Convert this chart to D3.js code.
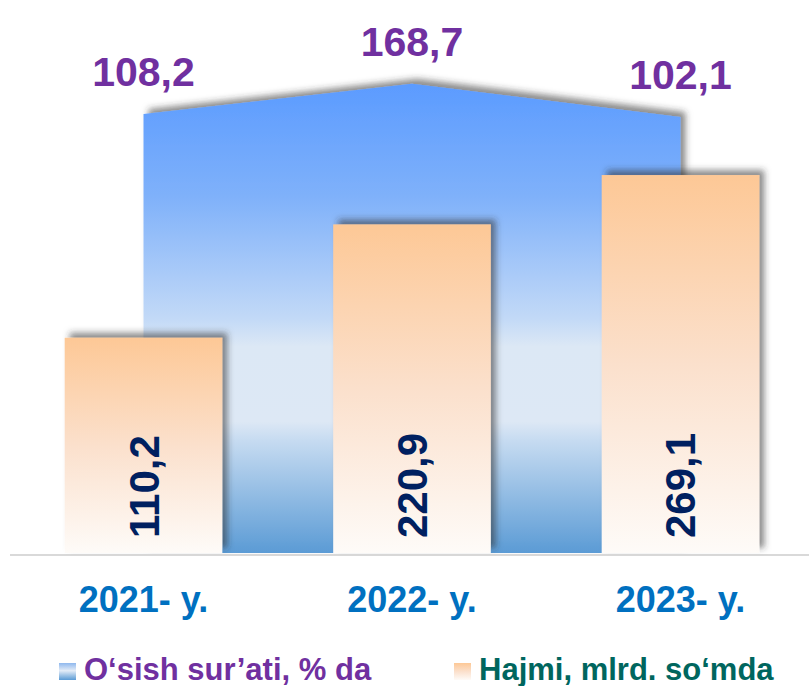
<!DOCTYPE html>
<html>
<head>
<meta charset="utf-8">
<script src="https://cdn.jsdelivr.net/npm/d3@7"></script>
<style>
  body { margin: 0; background: #fff; }
  text { font-family: "Liberation Sans", Arial, sans-serif; font-weight: bold; }
</style>
</head>
<body>
<svg id="chart" width="809" height="686"></svg>
<script>
const years = ["2021- y.", "2022- y.", "2023- y."];
const volume = [110.2, 220.9, 269.1];   // Hajmi, mlrd. so'mda
const growth = [108.2, 168.7, 102.1];   // O'sish sur'ati, % da
const legendNames = ["O\u2018sish sur\u2019ati, % da", "Hajmi, mlrd. so\u2018mda"];

const svg = d3.select("#chart");
const base = 553;

const fmt = d3.formatLocale({ decimal: ",", thousands: " ", grouping: [3], currency: ["", ""] }).format(".1f");

const x = d3.scaleBand()
  .domain(years)
  .range([11, 813])
  .paddingInner(0.413)
  .paddingOuter(0.2);

// primary axis (bars) and secondary axis (area), both hidden
const y1 = d3.scaleLinear().domain([-100, 300]).range([base, base - 400 * 1.024]);
const y2 = d3.scaleLinear().domain([-770, 330]).range([base, base - 1100 * 0.5]);

const cx = d => x(d) + x.bandwidth() / 2;

const defs = svg.append("defs");

const areaGrad = defs.append("linearGradient")
  .attr("id", "areaGrad").attr("x1", 0).attr("y1", 0).attr("x2", 0).attr("y2", 1);
[[0, "#5b9bff"], [0.24, "#7fb1fa"], [0.5, "#c2d9f7"], [0.56, "#dce8f5"],
 [0.72, "#dde8f5"], [0.76, "#c6dbf1"], [1, "#5b9bd5"]]
  .forEach(([o, c]) => areaGrad.append("stop").attr("offset", o).attr("stop-color", c));

const barGrad = defs.append("linearGradient")
  .attr("id", "barGrad").attr("x1", 0).attr("y1", 0).attr("x2", 0).attr("y2", 1);
[[0, "#fdc896"], [0.5, "#fbe0cc"], [1, "#fefbf8"]]
  .forEach(([o, c]) => barGrad.append("stop").attr("offset", o).attr("stop-color", c));

const legBlue = defs.append("linearGradient")
  .attr("id", "legBlue").attr("x1", 0).attr("y1", 0).attr("x2", 0).attr("y2", 1);
[[0, "#8fb8ee"], [0.45, "#e3ecf7"], [1, "#5b9bd5"]]
  .forEach(([o, c]) => legBlue.append("stop").attr("offset", o).attr("stop-color", c));

const shadow = defs.append("filter")
  .attr("id", "shadow").attr("x", "-10%").attr("y", "-10%").attr("width", "130%").attr("height", "130%");
shadow.append("feDropShadow")
  .attr("dx", 5).attr("dy", -5).attr("stdDeviation", 3)
  .attr("flood-color", "#333").attr("flood-opacity", 0.55);

// area (growth rate)
const area = d3.area()
  .x((d, i) => cx(years[i]))
  .y0(base)
  .y1(d => y2(d));

svg.append("path")
  .datum(growth)
  .attr("d", area)
  .attr("fill", "url(#areaGrad)")
  .attr("filter", "url(#shadow)");

// baseline
svg.append("line")
  .attr("x1", 10).attr("x2", 809)
  .attr("y1", base + 2).attr("y2", base + 2)
  .attr("stroke", "#d9d9d9").attr("stroke-width", 2);

// bars (volume)
svg.selectAll(".bar")
  .data(volume)
  .enter()
  .append("rect")
  .attr("class", "bar")
  .attr("x", (d, i) => x(years[i]))
  .attr("y", d => y1(d))
  .attr("width", x.bandwidth())
  .attr("height", d => base - y1(d))
  .attr("fill", "url(#barGrad)")
  .attr("filter", "url(#shadow)");

// bar value labels, rotated
svg.selectAll(".bar-label")
  .data(volume)
  .enter()
  .append("text")
  .attr("class", "bar-label")
  .attr("transform", (d, i) => `translate(${cx(years[i]) + 15},${base - 15}) rotate(-90)`)
  .attr("font-size", 42)
  .attr("fill", "#002060")
  .text(d => fmt(d));

// growth labels
svg.selectAll(".growth-label")
  .data(growth)
  .enter()
  .append("text")
  .attr("class", "growth-label")
  .attr("x", (d, i) => cx(years[i]))
  .attr("y", d => y2(d) - 28)
  .attr("text-anchor", "middle")
  .attr("font-size", 41)
  .attr("fill", "#7030a0")
  .text(d => fmt(d));

// category axis labels
svg.selectAll(".year")
  .data(years)
  .enter()
  .append("text")
  .attr("class", "year")
  .attr("x", d => cx(d))
  .attr("y", 612)
  .attr("text-anchor", "middle")
  .attr("font-size", 36)
  .attr("fill", "#0070c0")
  .text(d => d);

// legend
const legend = svg.append("g");
const legendItems = [
  { name: legendNames[0], fill: "url(#legBlue)", color: "#7030a0", x: 59 },
  { name: legendNames[1], fill: "url(#barGrad)", color: "#00665e", x: 454 }
];

legend.selectAll("rect")
  .data(legendItems)
  .enter()
  .append("rect")
  .attr("x", d => d.x)
  .attr("y", 663)
  .attr("width", 17)
  .attr("height", 17)
  .attr("fill", d => d.fill);

legend.selectAll("text")
  .data(legendItems)
  .enter()
  .append("text")
  .attr("x", d => d.x + 25)
  .attr("y", 680)
  .attr("font-size", 31)
  .attr("fill", d => d.color)
  .text(d => d.name);
</script>
</body>
</html>
